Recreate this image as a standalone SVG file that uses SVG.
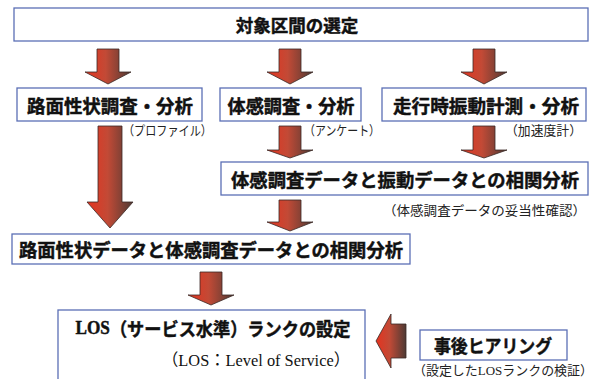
<svg xmlns="http://www.w3.org/2000/svg" width="596" height="379" viewBox="0 0 596 379">
<defs>
<linearGradient id="g" x1="0" y1="0" x2="1" y2="0">
<stop offset="0" stop-color="#e5331f"/>
<stop offset="0.45" stop-color="#c24a36"/>
<stop offset="1" stop-color="#4e3a34"/>
</linearGradient>
<style>
.box{fill:#fff;stroke:#5b6fb5;stroke-width:1.3}
.arr{fill:url(#g);stroke:#3a2a26;stroke-width:0.8}
.h{font-family:"Noto Sans CJK JP","Noto Sans",sans-serif;font-weight:700;font-size:18.5px;fill:#111;stroke:#111;stroke-width:0.45;text-anchor:middle;dominant-baseline:central}
.s{font-family:"Noto Sans CJK JP","Noto Sans",sans-serif;font-size:13px;fill:#222}
.serif{font-family:"Liberation Serif","Noto Sans CJK JP",serif}
</style>
</defs>
<rect width="596" height="379" fill="#fff"/>
<g id="connectors">
<path class="arr" d="M97,49H119V72H131L108,84L85,72H97Z"/>
<path class="arr" d="M279,49H301V72H313L290,84L267,72H279Z"/>
<path class="arr" d="M473,49H495V72H507L484,84L461,72H473Z"/>
<path class="arr" d="M98,126H122V202H133L110,228L87,202H98Z"/>
<path class="arr" d="M279,126H301V150H313L290,158L267,150H279Z"/>
<path class="arr" d="M473,126H495V150H507L484,158L461,150H473Z"/>
<path class="arr" d="M279,200H301V222H313L290,231L267,222H279Z"/>
<path class="arr" d="M200,272H222V295H234L211,305L188,295H200Z"/>
<path class="arr" d="M406,324V358H391V368L376,341L391,314V324Z"/>
</g>
<g id="n1"><rect class="box" x="14" y="8" width="574" height="33"/><text class="h" x="297" y="24.5" style="font-size:17.5px">対象区間の選定</text></g>
<g id="n2"><rect class="box" x="17" y="88" width="185" height="33"/><text class="h" x="110" y="104.5" textLength="166" lengthAdjust="spacingAndGlyphs">路面性状調査・分析</text><text class="s" x="123" y="135" textLength="89" lengthAdjust="spacingAndGlyphs">（プロファイル）</text></g>
<g id="n3"><rect class="box" x="220" y="88" width="141" height="33"/><text class="h" x="291" y="104.5" textLength="127" lengthAdjust="spacingAndGlyphs">体感調査・分析</text><text class="s" x="304" y="135" textLength="76" lengthAdjust="spacingAndGlyphs">（アンケート）</text></g>
<g id="n4"><rect class="box" x="382" y="88" width="204" height="33"/><text class="h" x="486" y="104.5" textLength="186" lengthAdjust="spacingAndGlyphs">走行時振動計測・分析</text><text class="s" x="505" y="135" textLength="77" lengthAdjust="spacingAndGlyphs">（加速度計）</text></g>
<g id="n5"><rect class="box" x="221" y="162" width="367" height="33"/><text class="h" x="405" y="178.5" textLength="348" lengthAdjust="spacingAndGlyphs">体感調査データと振動データとの相関分析</text><text class="s" x="383" y="215" textLength="203" lengthAdjust="spacingAndGlyphs">（体感調査データの妥当性確認）</text></g>
<g id="n6"><rect class="box" x="12" y="234" width="398" height="30"/><text class="h" x="211" y="249" textLength="384" lengthAdjust="spacingAndGlyphs">路面性状データと体感調査データとの相関分析</text></g>
<g id="n7"><rect class="box" x="58" y="310" width="307" height="80"/><text class="h" x="213" y="328" textLength="275" lengthAdjust="spacingAndGlyphs"><tspan class="serif">LOS</tspan>（サービス水準）ランクの設定</text><text class="serif" x="350" y="366" style="font-size:16.5px" fill="#111" text-anchor="end" textLength="188" lengthAdjust="spacingAndGlyphs">（LOS：Level of Service）</text></g>
<g id="n8"><rect class="box" x="420" y="330" width="147" height="30"/><text class="h" x="493" y="345" textLength="118" lengthAdjust="spacingAndGlyphs">事後ヒアリング</text><text class="s" x="413" y="375" textLength="180" lengthAdjust="spacingAndGlyphs">（設定した<tspan class="serif">LOS</tspan>ランクの検証）</text></g>
</svg>
